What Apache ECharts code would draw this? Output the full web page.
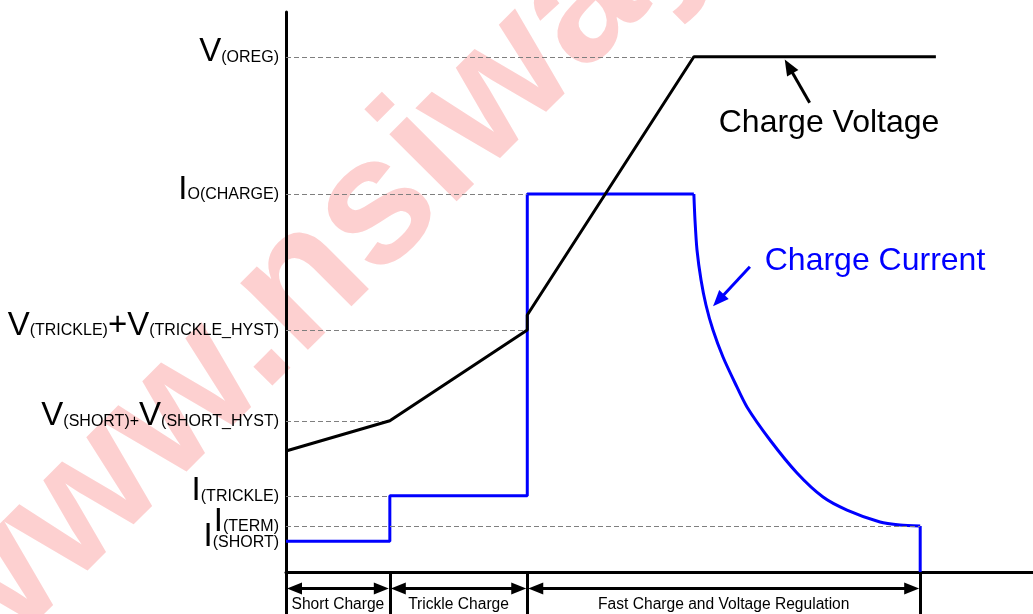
<!DOCTYPE html>
<html>
<head>
<meta charset="utf-8">
<title>Charge profile</title>
<script src="https://cdn.jsdelivr.net/npm/echarts@6/dist/echarts.min.js"></script>
<style>
  html, body { margin: 0; padding: 0; background: #fff; }
  #chart { width: 1033px; height: 614px; }
</style>
</head>
<body>
<div id="chart"></div>
<script>
// time runs 0..100 across the plot, level 0..100 upward (below 0 holds the phase strip)
const phaseNames = ['Short Charge', 'Trickle Charge', 'Fast Charge and Voltage Regulation'];
const phaseBounds = [0, 13.9, 32.3, 84.9];

const levelValues = [92.0, 67.5, 43.2, 27.0, 13.6, 8.2, 5.5];
const levelLabels = [
  '{b|V}{s|(OREG)}',
  '{b|I}{s|O(CHARGE)}',
  '{b|V}{s|(TRICKLE)}{b|+V}{s|(TRICKLE_HYST)}',
  '{b|V}{s|(SHORT)+}{b|V}{s|(SHORT_HYST)}',
  '{b|I}{s|(TRICKLE)}',
  '{b|I}{s|(TERM)}',
  '{b|I}{s|(SHORT)}',
];
// where each dashed guide stops (null = no guide)
const guideEnds = [54.6, 32.3, 32.3, 13.9, 13.9, 84.9, null];

const voltageX = [0, 13.9, 32.3, 32.3, 54.6, 87.0];
const voltageY = [21.6, 27.0, 43.2, 45.9, 92.0, 92.0];

const currentX = [0, 13.9, 13.9, 32.3, 32.3, 54.6];
const currentY = [5.5, 5.5, 13.6, 13.6, 67.5, 67.5];

const decayX = [54.6, 54.75, 55.02, 55.56, 56.22, 57.16, 58.5, 60.11, 61.71, 64.79, 68.41, 71.89, 75.1, 79.52, 82.2, 84.9];
const decayY = [67.5, 62.86, 57.5, 52.14, 47.68, 43.21, 38.39, 33.75, 29.46, 23.57, 17.68, 13.39, 11.07, 8.93, 8.39, 8.2];

const dropX = [84.9, 84.9];
const dropY = [8.2, 0];

// annotation: [text, text x, text y, arrow from x, from y, arrow head x, head y]
const voltageNote = ['Charge Voltage', 72.7, 80.2, 70.1, 83.8, 67.3, 90.3];
const currentNote = ['Charge Current', 78.85, 55.5, 62.1, 54.5, 57.9, 48.5];

const phaseArrowY = -2.95;

const FONT = '"Liberation Sans", Arial, sans-serif';
const PX_PER_X = 747 / 100;
const HEAD = [12, 15];
const zip = (xs, ys) => xs.map((x, i) => [x, ys[i]]);

const chart = echarts.init(document.getElementById('chart'));

const guideLines = [];
levelValues.forEach((v, i) => {
  if (guideEnds[i] != null) {
    guideLines.push([{ coord: [0, v] }, { coord: [guideEnds[i], v] }]);
  }
});

const levelMarks = levelValues.map((v, i) => ({ name: levelLabels[i], coord: [0, v] }));

const separators = phaseBounds.slice(1).map((x) => [{ coord: [x, 0] }, { coord: [x, -7.5] }]);
// pull heads in by half their length so the tips touch the separators
const headPad = (HEAD[1] / 2 + 1) / PX_PER_X;
const phaseArrows = phaseNames.map((name, i) => [
  { coord: [phaseBounds[i] + headPad, phaseArrowY], name: name, symbolSize: HEAD },
  { coord: [phaseBounds[i + 1] - headPad, phaseArrowY], symbolSize: HEAD },
]);

const noteArrow = (note, color) => ({
  silent: true,
  symbol: ['none', 'triangle'],
  label: { show: false },
  lineStyle: { color: color, width: 3, type: 'solid' },
  data: [[
    { coord: [note[3], note[4]], symbolSize: 0 },
    { coord: [note[5], note[6]], symbolSize: [13, 16] },
  ]],
});

const noteText = (note, color) => ({
  silent: true,
  symbolSize: 0,
  label: { show: true, position: 'inside', formatter: '{b}', color: color, fontSize: 32, fontFamily: FONT },
  data: [{ name: note[0], coord: [note[1], note[2]] }],
});

const option = {
  animation: false,
  grid: { left: 286, right: 0, top: 12, bottom: 0, containLabel: false },
  xAxis: {
    type: 'value',
    min: 0,
    max: 100,
    axisLine: { show: true, onZero: true, lineStyle: { color: '#000', width: 3 } },
    axisTick: { show: false },
    axisLabel: { show: false },
    splitLine: { show: false },
  },
  yAxis: {
    type: 'value',
    min: -7.5,
    max: 100,
    axisLine: { show: true, onZero: false, lineStyle: { color: '#000', width: 3 } },
    axisTick: { show: false },
    axisLabel: { show: false },
    splitLine: { show: false },
  },
  graphic: [
    {
      type: 'text',
      x: 0,
      y: 715,
      rotation: Math.PI / 4,
      z: -100,
      silent: true,
      style: {
        text: 'www.nsiway.com',
        font: 'bold 180px ' + FONT,
        fill: '#fdd0d0',
        align: 'left',
        verticalAlign: 'bottom',
      },
    },
  ],
  series: [
    {
      name: 'guides',
      type: 'line',
      data: [],
      markLine: {
        silent: true,
        symbol: ['none', 'none'],
        label: { show: false },
        lineStyle: { color: '#7f7f7f', width: 1, type: [5, 3] },
        data: guideLines,
      },
      markPoint: {
        silent: true,
        symbolSize: 0,
        label: {
          show: true,
          position: 'left',
          distance: 7,
          formatter: '{b}',
          padding: [0, 0, 9, 0],
          rich: {
            b: { fontSize: 33, lineHeight: 33, fontFamily: FONT, color: '#000', verticalAlign: 'bottom' },
            s: { fontSize: 16, lineHeight: 16, fontFamily: FONT, color: '#000', verticalAlign: 'bottom', padding: [0, 0, 3, 0] },
          },
        },
        data: levelMarks,
      },
    },
    {
      name: 'phases',
      type: 'line',
      data: [],
      markLine: {
        silent: true,
        symbol: ['none', 'none'],
        label: { show: false },
        lineStyle: { color: '#000', width: 3, type: 'solid' },
        data: separators,
      },
    },
    {
      name: 'phaseArrows',
      type: 'line',
      data: [],
      markLine: {
        silent: true,
        symbol: ['triangle', 'triangle'],
        lineStyle: { color: '#000', width: 3, type: 'solid' },
        label: {
          show: true,
          position: 'insideMiddleBottom',
          formatter: '{b}',
          distance: 8,
          color: '#000',
          fontSize: 15.6,
          fontFamily: FONT,
        },
        data: phaseArrows,
      },
    },
    {
      name: 'Charge Voltage',
      type: 'line',
      data: zip(voltageX, voltageY),
      symbol: 'none',
      z: 5,
      lineStyle: { color: '#000', width: 3 },
      markLine: noteArrow(voltageNote, '#000'),
      markPoint: noteText(voltageNote, '#000'),
    },
    {
      name: 'Charge Current',
      type: 'line',
      data: zip(currentX, currentY),
      symbol: 'none',
      z: 4,
      lineStyle: { color: '#0000ff', width: 3 },
      markLine: noteArrow(currentNote, '#0000ff'),
      markPoint: noteText(currentNote, '#0000ff'),
    },
    {
      name: 'decay',
      type: 'line',
      data: zip(decayX, decayY),
      symbol: 'none',
      smooth: 0.25,
      z: 4,
      lineStyle: { color: '#0000ff', width: 3 },
    },
    {
      name: 'drop',
      type: 'line',
      data: zip(dropX, dropY),
      symbol: 'none',
      z: 4,
      lineStyle: { color: '#0000ff', width: 3 },
    },
  ],
};

chart.setOption(option);
window.addEventListener('resize', () => {
  chart.resize();
});
</script>
</body>
</html>
